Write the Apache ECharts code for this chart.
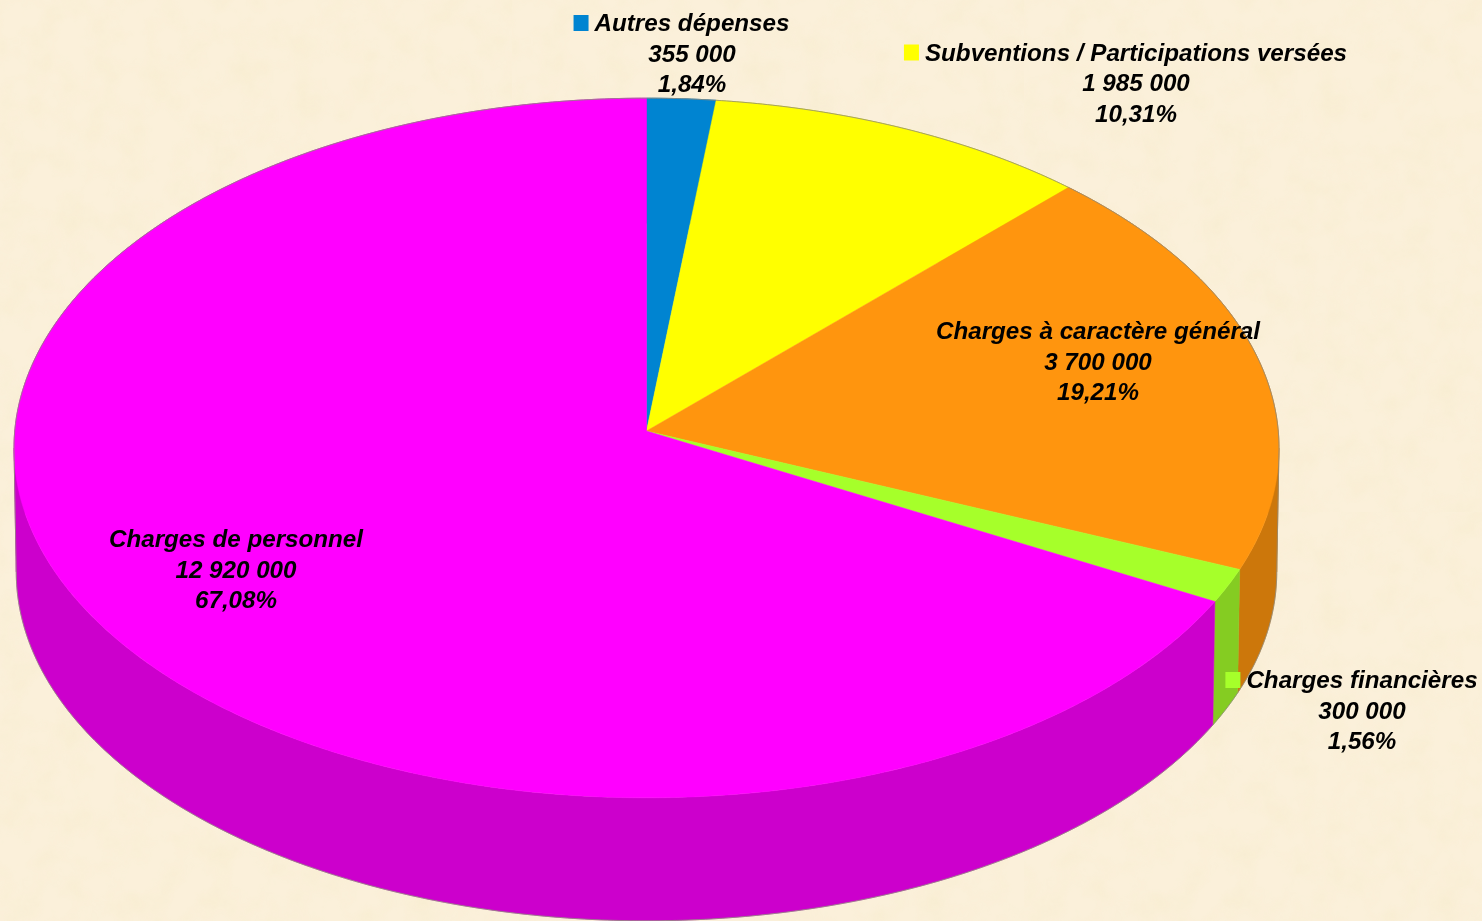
<!DOCTYPE html>
<html>
<head>
<meta charset="utf-8">
<title>Dépenses</title>
<script src="https://cdn.jsdelivr.net/npm/echarts@6/dist/echarts.min.js"></script>
<style>
  html, body { margin: 0; padding: 0; width: 100%; height: 100%; overflow: hidden; }
  body {
    background-color: #fbf0da;
    background-image: url("data:image/svg+xml,%3Csvg xmlns='http://www.w3.org/2000/svg' width='512' height='512'%3E%3Cfilter id='n'%3E%3CfeTurbulence type='fractalNoise' baseFrequency='0.035' numOctaves='4' stitchTiles='stitch'/%3E%3CfeColorMatrix values='0 0 0 0 0.93 0 0 0 0 0.84 0 0 0 0 0.62 0 0 0 1.1 -0.42'/%3E%3C/filter%3E%3Crect width='512' height='512' filter='url(%23n)'/%3E%3C/svg%3E");
  }
  #chart { width: 1482px; height: 921px; }
</style>
</head>
<body>
<div id="chart"></div>
<script>
// clockwise from 12 o'clock, same order as the slices
var categories = ['Autres dépenses', 'Subventions / Participations versées', 'Charges à caractère général', 'Charges financières', 'Charges de personnel'];
var values = [355000, 1985000, 3700000, 300000, 12920000];

var topColors = ['#0084d1', '#ffff00', '#ff950e', '#a6ff2a', '#ff00ff'];
var sideColors = ['#006aa7', '#cccc00', '#cc770b', '#85cc22', '#cc00cc'];

// centre of each label's middle line, page pixels
var labelAnchors = [[692, 55], [1136, 84.5], [1098, 363], [1362, 712], [236, 571]];

// tilted disc: apex + perspective
var apexX = 646.5, topApexY = 431, bottomApexY = 555;
var topA = 631.75, topB = 349, bottomA = 629.5, bottomB = 348;
var persp = 0.0486;
// where the side of the disc is widest
var rightEdgeDeg = 92.79, leftEdgeDeg = 267.21;

var total = values.reduce(function (a, b) { return a + b; }, 0);

function startDeg(i) {
    var sum = 0;
    for (var k = 0; k < i; k++) sum += values[k];
    return sum / total * 360;
}

function project(deg, bottom) {
    var t = deg * Math.PI / 180;
    var u = Math.sin(t), v = -Math.cos(t);
    var w = 1 - persp * v;
    return [apexX + (bottom ? bottomA : topA) * u / w,
            (bottom ? bottomApexY : topApexY) + (bottom ? bottomB : topB) * v / w];
}

function arc(a, b, bottom) {
    var pts = [];
    var n = Math.max(2, Math.ceil((b - a) * 2));
    for (var i = 0; i <= n; i++) pts.push(project(a + (b - a) * i / n, bottom));
    return pts;
}

function toPx(api, pts) {
    return pts.map(function (p) { return api.coord(p); });
}

// split at the widest points so each outline keeps the straight sides of the disc
function renderWall(params, api) {
    var i = params.dataIndex;
    var s = startDeg(i), e = s + api.value(1) / total * 360;
    var cuts = [s];
    [rightEdgeDeg, leftEdgeDeg].forEach(function (d) {
        if (d > s && d < e) cuts.push(d);
    });
    cuts.push(e);
    var children = [];
    for (var k = 0; k < cuts.length - 1; k++) {
        var pts = arc(cuts[k], cuts[k + 1], false).concat(arc(cuts[k], cuts[k + 1], true).reverse());
        children.push({
            type: 'polygon',
            shape: { points: toPx(api, pts) },
            style: { fill: sideColors[i], stroke: sideColors[i], lineWidth: 0.5 }
        });
    }
    return { type: 'group', children: children };
}

function renderTop(params, api) {
    var i = params.dataIndex;
    var s = startDeg(i), e = s + api.value(1) / total * 360;
    var pts = [[apexX, topApexY]].concat(arc(s, e, false));
    return {
        type: 'polygon',
        shape: { points: toPx(api, pts) },
        style: { fill: topColors[i], stroke: topColors[i], lineWidth: 0.5 }
    };
}

// thin grey line round the outside only
function renderRim(params, api) {
    var i = params.dataIndex;
    var s = startDeg(i), e = s + api.value(1) / total * 360;
    var children = [];
    function line(pts) {
        children.push({
            type: 'polyline',
            shape: { points: toPx(api, pts) },
            style: { fill: null, stroke: '#8f8a7c', lineWidth: 0.8 }
        });
    }
    [[0, rightEdgeDeg, false], [leftEdgeDeg, 360, false], [rightEdgeDeg, leftEdgeDeg, true]].forEach(function (r) {
        var a = Math.max(s, r[0]), b = Math.min(e, r[1]);
        if (b > a) line(arc(a, b, r[2]));
    });
    [rightEdgeDeg, leftEdgeDeg].forEach(function (d) {
        if (d > s && d < e) line([project(d, false), project(d, true)]);
    });
    return { type: 'group', children: children };
}

function formatAmount(v) {
    return String(v).replace(/\B(?=(\d{3})+$)/g, ' ');
}

function formatPercent(v) {
    return (v / total * 100).toFixed(2).replace('.', ',') + '%';
}

var labelFont = 'italic bold 24.2px "Liberation Sans"';

function renderLabel(params, api) {
    var i = params.dataIndex;
    var pos = api.coord(labelAnchors[i]);
    var nameWidth = echarts.format.getTextRect(categories[i], labelFont).width;
    return {
        type: 'group',
        children: [{
            type: 'rect',
            shape: { x: pos[0] - nameWidth / 2 - 21, y: pos[1] - 40, width: 15, height: 16 },
            style: { fill: topColors[i] }
        }, {
            type: 'text',
            x: pos[0],
            y: pos[1],
            style: {
                text: categories[i] + '\n' + formatAmount(values[i]) + '\n' + formatPercent(values[i]),
                font: labelFont,
                fill: '#000000',
                align: 'center',
                verticalAlign: 'middle',
                lineHeight: 30.5
            }
        }]
    };
}

var sliceData = values.map(function (v, i) { return [i, v]; });

var chart = echarts.init(document.getElementById('chart'));
chart.setOption({
    animation: false,
    backgroundColor: 'transparent',
    grid: { left: 0, right: 0, top: 0, bottom: 0 },
    xAxis: { type: 'value', min: 0, max: 1482, show: false },
    yAxis: { type: 'value', min: 0, max: 921, inverse: true, show: false },
    series: [
        { type: 'custom', coordinateSystem: 'cartesian2d', clip: false, z: 1, silent: true, renderItem: renderWall, data: sliceData, encode: { x: 0, y: 1 } },
        { type: 'custom', coordinateSystem: 'cartesian2d', clip: false, z: 2, silent: true, renderItem: renderTop, data: sliceData, encode: { x: 0, y: 1 } },
        { type: 'custom', coordinateSystem: 'cartesian2d', clip: false, z: 3, silent: true, renderItem: renderRim, data: sliceData, encode: { x: 0, y: 1 } },
        { type: 'custom', coordinateSystem: 'cartesian2d', clip: false, z: 4, silent: true, renderItem: renderLabel, data: sliceData, encode: { x: 0, y: 1 } }
    ]
});
</script>
</body>
</html>
